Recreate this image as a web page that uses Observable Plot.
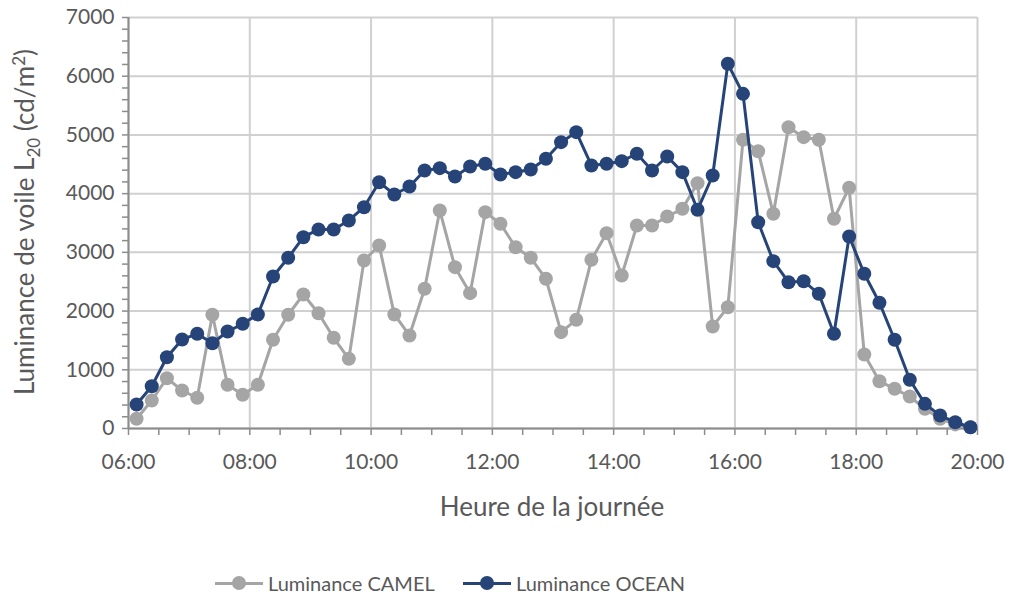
<!DOCTYPE html>
<html>
<head>
<meta charset="utf-8">
<script src="https://cdn.jsdelivr.net/npm/d3@7"></script>
<script src="https://cdn.jsdelivr.net/npm/@observablehq/plot@0.6"></script>
<style>
  html, body { margin: 0; padding: 0; background: #fff; }
  body { width: 1011px; height: 599px; overflow: hidden; font-family: Lato, "Open Sans", sans-serif; }
  #legend { position: absolute; top: 568px; left: 0; width: 1011px; height: 30px; }
  .item { position: absolute; top: 0; height: 30px; display: flex; align-items: center; font-size: 20px; color: #595959; }
  .sym { position: relative; width: 48px; height: 30px; margin-right: 5px; }
  .sym .ln { position: absolute; left: 0; right: 0; top: 13.5px; height: 3px; }
  .sym .dt { position: absolute; left: 17px; top: 8px; width: 14px; height: 14px; border-radius: 50%; }
</style>
</head>
<body>
<div id="chart"></div>
<div id="legend">
  <div class="item" style="left:215px"><div class="sym"><div class="ln" style="background:#a5a5a5"></div><div class="dt" style="background:#a5a5a5"></div></div><span>Luminance CAMEL</span></div>
  <div class="item" style="left:463px"><div class="sym"><div class="ln" style="background:#264478"></div><div class="dt" style="background:#264478"></div></div><span>Luminance OCEAN</span></div>
</div>
<script>
const times = ["06:08","06:23","06:38","06:53","07:08","07:23","07:38","07:53",
  "08:08","08:23","08:38","08:53","09:08","09:23","09:38","09:53",
  "10:08","10:23","10:38","10:53","11:08","11:23","11:38","11:53",
  "12:08","12:23","12:38","12:53","13:08","13:23","13:38","13:53",
  "14:08","14:23","14:38","14:53","15:08","15:23","15:38","15:53",
  "16:08","16:23","16:38","16:53","17:08","17:23","17:38","17:53",
  "18:08","18:23","18:38","18:53","19:08","19:23","19:38","19:53"];
const camel = [165,477,857,647,523,1937,744,574,744,1511,1937,2282,1964,1545,1187,2862,
  3117,1942,1584,2379,3713,2748,2305,3685,3487,3088,2907,2550,1641,1851,2873,3327,
  2606,3458,3458,3611,3742,4179,1737,2066,4917,4723,3657,5132,4962,4917,3572,4100,
  1260,806,676,545,335,165,70,20];
const ocean = [409,720,1214,1516,1613,1453,1652,1783,1942,2589,2907,3258,3390,3390,3543,3769,
  4195,3986,4122,4394,4434,4292,4463,4508,4326,4366,4411,4594,4877,5047,4480,4508,
  4553,4679,4394,4633,4366,3725,4309,6212,5700,3514,2850,2492,2509,2294,1613,3270,
  2635,2141,1511,830,420,221,107,22];
const xTickLabels = ["06:00","08:00","10:00","12:00","14:00","16:00","18:00","20:00"];
const yMajor = [0,1000,2000,3000,4000,5000,6000,7000];

const toDate = s => { const [h, m] = s.split(":").map(Number); return new Date(Date.UTC(2020, 0, 1, h, m)); };
const xMajor = xTickLabels.map(toDate);
const xMinor = d3.utcMinute.every(30).range(toDate("06:00"), new Date(toDate("20:00").getTime() + 1));
const yMinor = d3.range(0, 7001, 200);

const camelData = times.map((t, i) => ({t: toDate(t), v: camel[i]}));
const oceanData = times.map((t, i) => ({t: toDate(t), v: ocean[i]}));

const grid = "#d0d0d0", axisC = "#8c8c8c", textC = "#595959";
const chart = Plot.plot({
  width: 1011, height: 530,
  marginLeft: 128, marginRight: 34, marginTop: 17, marginBottom: 102,
  style: {fontFamily: "Lato, 'Open Sans', sans-serif", fontSize: "21px", color: textC, background: "#fff"},
  x: {type: "utc", domain: [toDate("06:00"), toDate("20:00")], label: null},
  y: {domain: [0, 7000], label: null},
  marks: [
    Plot.ruleY(yMajor, {stroke: grid, strokeWidth: 2}),
    Plot.ruleX(xMajor, {stroke: grid, strokeWidth: 2}),
    Plot.axisY(yMinor, {tickSize: 6, text: null, stroke: axisC, strokeWidth: 1.5}),
    Plot.axisY(yMajor, {tickSize: 0, tickPadding: 14, tickFormat: d => String(d), fill: textC, label: null}),
    Plot.axisX(xMinor, {tickSize: 7, text: null, stroke: axisC, strokeWidth: 1.5}),
    Plot.axisX(xMajor, {tickSize: 0, tickPadding: 26, tickFormat: d3.utcFormat("%H:%M"), fill: textC, label: null}),
    Plot.ruleX([toDate("06:00")], {stroke: axisC, strokeWidth: 2}),
    Plot.ruleY([0], {stroke: axisC, strokeWidth: 2}),
    Plot.line(camelData, {x: "t", y: "v", stroke: "#a5a5a5", strokeWidth: 3}),
    Plot.dot(camelData, {x: "t", y: "v", fill: "#a5a5a5", r: 7}),
    Plot.line(oceanData, {x: "t", y: "v", stroke: "#264478", strokeWidth: 3}),
    Plot.dot(oceanData, {x: "t", y: "v", fill: "#264478", r: 7})
  ]
});
document.getElementById("chart").appendChild(chart);

const svg = d3.select(chart);
svg.append("text")
  .attr("x", 552).attr("y", 516)
  .attr("text-anchor", "middle")
  .attr("fill", textC).style("font-size", "26px")
  .text("Heure de la journée");
const yt = svg.append("text")
  .attr("transform", "translate(34,222) rotate(-90)")
  .attr("text-anchor", "middle")
  .attr("fill", textC).style("font-size", "26px");
yt.append("tspan").text("Luminance de voile L");
yt.append("tspan").attr("dy", 6).style("font-size", "17px").text("20");
yt.append("tspan").attr("dy", -6).text(" (cd/m");
yt.append("tspan").attr("dy", -9).style("font-size", "17px").text("2");
yt.append("tspan").attr("dy", 9).text(")");
</script>
</body>
</html>
